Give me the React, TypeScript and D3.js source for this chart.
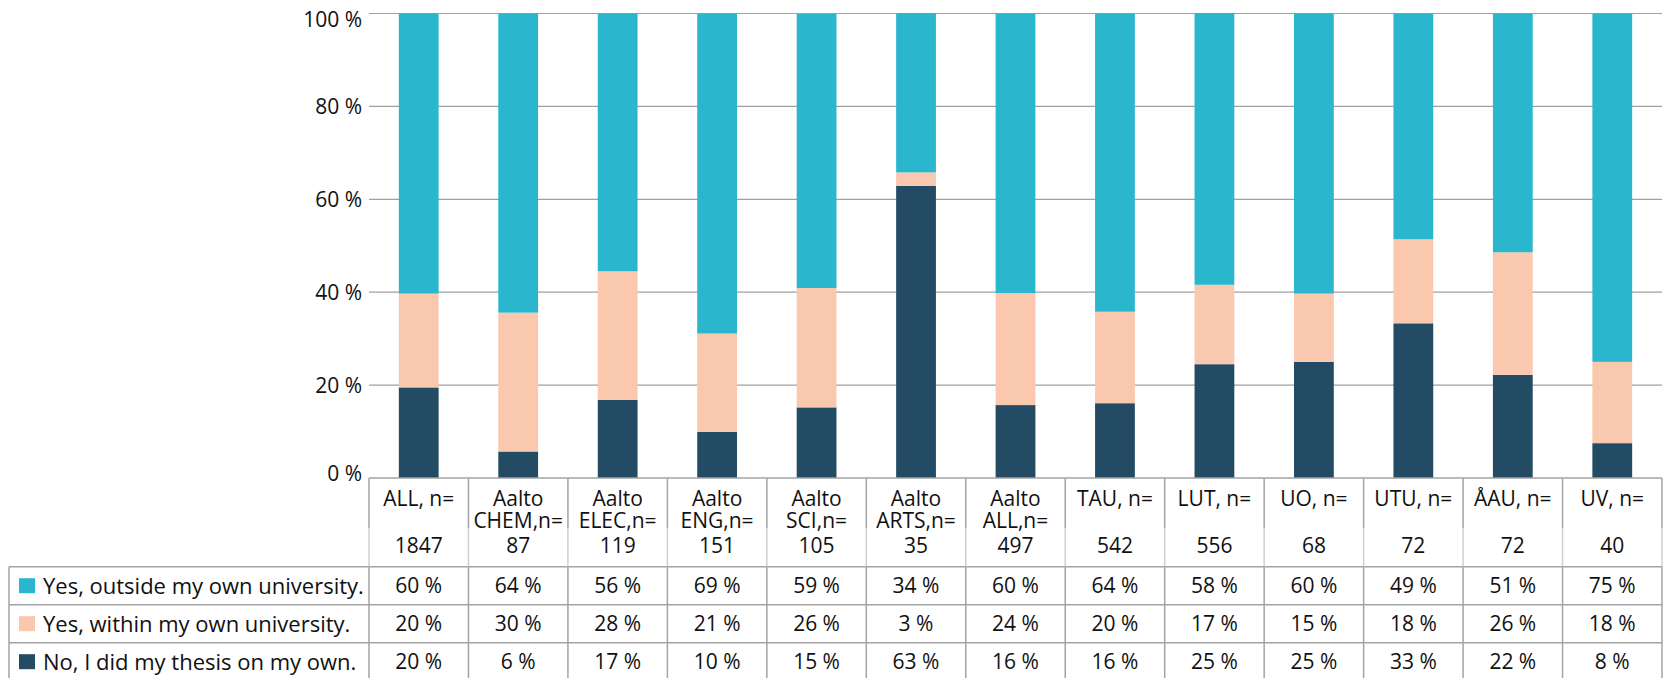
import React from "react";
import * as d3 from "d3";

const categoryNames = [
  ["ALL, n="],
  ["Aalto", "CHEM,n="],
  ["Aalto", "ELEC,n="],
  ["Aalto", "ENG,n="],
  ["Aalto", "SCI,n="],
  ["Aalto", "ARTS,n="],
  ["Aalto", "ALL,n="],
  ["TAU, n="],
  ["LUT, n="],
  ["UO, n="],
  ["UTU, n="],
  ["ÅAU, n="],
  ["UV, n="],
];
const nValues = ["1847", "87", "119", "151", "105", "35", "497", "542", "556", "68", "72", "72", "40"];

const seriesNames = ["Yes, outside my own university.", "Yes, within my own university.", "No, I did my thesis on my own."];

const noOwn = [19.5, 5.7, 16.8, 9.9, 15.2, 62.9, 15.7, 16.1, 24.5, 25.0, 33.3, 22.2, 7.5];
const withinUni = [20.2, 29.9, 27.7, 21.2, 25.7, 2.9, 24.1, 19.7, 17.1, 14.7, 18.1, 26.4, 17.5];
const outsideUni = [60.3, 64.4, 55.5, 68.9, 59.0, 34.3, 60.2, 64.2, 58.5, 60.3, 48.6, 51.4, 75.0];

const outsideLabels = ["60 %", "64 %", "56 %", "69 %", "59 %", "34 %", "60 %", "64 %", "58 %", "60 %", "49 %", "51 %", "75 %"];
const withinLabels = ["20 %", "30 %", "28 %", "21 %", "26 %", "3 %", "24 %", "20 %", "17 %", "15 %", "18 %", "26 %", "18 %"];
const noLabels = ["20 %", "6 %", "17 %", "10 %", "15 %", "63 %", "16 %", "16 %", "25 %", "25 %", "33 %", "22 %", "8 %"];

const yTicks = [0, 20, 40, 60, 80, 100];

const COLORS = { outside: "#2AB7CE", within: "#F9C8AE", no: "#234B63" };
const FONT = "'Open Sans', sans-serif";

export default function App() {
  const W = 1669, H = 678;
  const left = 369, right = 1662, top = 13.5, bottom = 478;
  const keys = categoryNames.map((_, i) => String(i));
  const col = d3.scaleBand<string>().domain(keys).range([left, right]).padding(0);
  const barW = col.bandwidth() * 0.4;
  const y = d3.scaleLinear().domain([0, 100]).range([bottom, top]);

  const rows = keys.map((k, i) => ({ key: k, no: noOwn[i], within: withinUni[i], outside: outsideUni[i] }));
  const stack = d3.stack<any>().keys(["no", "within", "outside"]);
  const stacked = stack(rows);

  const headerBottom = 566.7;
  const rowH = 38;
  const tableRows = [
    { name: seriesNames[0], color: COLORS.outside, labels: outsideLabels },
    { name: seriesNames[1], color: COLORS.within, labels: withinLabels },
    { name: seriesNames[2], color: COLORS.no, labels: noLabels },
  ];
  const lineColor = "#a3a3a3";
  const legendLeft = 9;
  const numSize = 21;
  const textSize = 22;

  return (
    <svg width={W} height={H} style={{ position: "absolute", left: 0, top: 0, fontFamily: FONT }}>
      <rect x={0} y={0} width={W} height={H} fill="#fff" />
      {/* gridlines */}
      {yTicks.map((t) => (
        <g key={t}>
          {t > 0 && <line x1={left} x2={right} y1={y(t)} y2={y(t)} stroke="#a0a0a0" strokeWidth={1.2} />}
          <text x={362} y={Math.min(Math.max(y(t), top + 6), bottom - 4.5)} dy="0.36em" textAnchor="end" fontSize={numSize} fill="#111">
            {t} %
          </text>
        </g>
      ))}
      {/* bars */}
      {stacked.map((s) => (
        <g key={s.key} fill={s.key === "no" ? COLORS.no : s.key === "within" ? COLORS.within : COLORS.outside}>
          {s.map((d, i) => {
            const cx = (col(keys[i]) as number) + col.bandwidth() / 2;
            return <rect key={i} x={cx - barW / 2} width={barW} y={y(d[1])} height={y(d[0]) - y(d[1])} />;
          })}
        </g>
      ))}
      {/* table */}
      <line x1={left} x2={right} y1={bottom} y2={bottom} stroke={lineColor} strokeWidth={1.5} />
      {[0, 1, 2].map((r) => (
        <line key={r} x1={legendLeft} x2={right} y1={headerBottom + r * rowH} y2={headerBottom + r * rowH} stroke={lineColor} strokeWidth={1.5} />
      ))}
      <line x1={legendLeft} x2={legendLeft} y1={headerBottom} y2={H} stroke={lineColor} strokeWidth={1.5} />
      {[...keys.map((k) => col(k) as number), right].map((x, i) => (
        <g key={i}>
          <line x1={x} x2={x} y1={bottom} y2={528} stroke={lineColor} strokeWidth={1.5} />
          <line x1={x} x2={x} y1={528} y2={headerBottom} stroke="#cfcfcf" strokeWidth={1.5} />
          <line x1={x} x2={x} y1={headerBottom} y2={H} stroke={lineColor} strokeWidth={1.5} />
        </g>
      ))}
      {/* headers */}
      {keys.map((k, i) => {
        const cx = (col(k) as number) + col.bandwidth() / 2;
        return (
          <g key={k} fontSize={numSize} fill="#111" textAnchor="middle">
            {categoryNames[i].map((ln, j) => (
              <text key={j} x={cx} y={498 + j * 22} dy="0.36em">
                {ln}
              </text>
            ))}
            <text x={cx} y={545} dy="0.36em">
              {nValues[i]}
            </text>
          </g>
        );
      })}
      {/* rows */}
      {tableRows.map((r, ri) => {
        const cy = headerBottom + ri * rowH + rowH / 2;
        return (
          <g key={ri} fill="#111">
            <rect x={19} y={cy - 7.5} width={16} height={15} fill={r.color} />
            <text x={43} y={cy} dy="0.36em" fontSize={textSize}>
              {r.name}
            </text>
            {keys.map((k, i) => (
              <text key={k} x={(col(k) as number) + col.bandwidth() / 2} y={cy} dy="0.36em" textAnchor="middle" fontSize={numSize}>
                {r.labels[i]}
              </text>
            ))}
          </g>
        );
      })}
    </svg>
  );
}
